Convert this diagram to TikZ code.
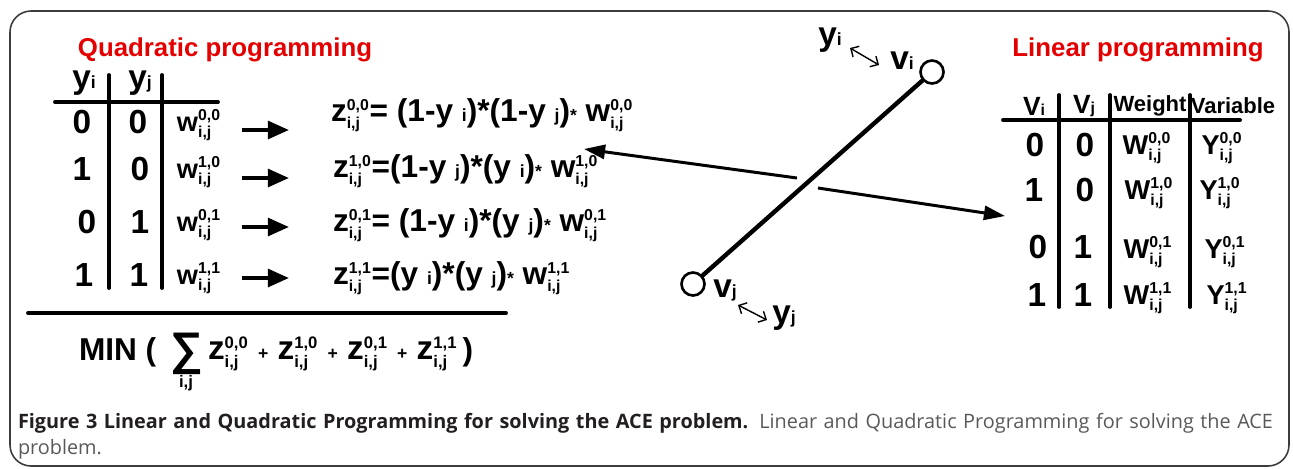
\documentclass[tikz,border=0pt]{standalone}
\usepackage{fontspec}
\setmainfont{Liberation Sans}
\newfontfamily\capfont{Open Sans}
\usetikzlibrary{arrows.meta}
\definecolor{qred}{RGB}{228,0,0}
\definecolor{capbold}{RGB}{35,31,32}
\definecolor{capgray}{RGB}{88,89,91}
\definecolor{framegray}{RGB}{60,60,60}
\newcommand\fsz[1]{\fontsize{#1}{#1}\selectfont}
% letter with superscript and subscript i,j
\newcommand\wsub[3]{$\hbox{#1}^{\hbox{\fsz{#3}#2}}_{\hbox{\fsz{#3}i,j}}$}
\newcommand\sml[1]{{\fsz{10}#1}}
\begin{document}
\begin{tikzpicture}[x=0.02cm,y=-0.02cm,
  every node/.style={inner sep=0pt,outer sep=0pt,font=\bfseries},
  frame/.style={draw=framegray,line width=0.9pt,rounded corners=12pt},
  title/.style={text=qred,font=\bfseries\fsz{14.7}},
  digit/.style={font=\bfseries\fsz{19}},
  wnode/.style={font=\bfseries\fsz{15.5}},
  eqnode/.style={anchor=west,font=\bfseries\fsz{18}},
  rulel/.style={line width=2.2pt,line cap=round},
  bigarrow/.style={line width=2.3pt,-{Triangle[length=12pt,width=10pt]}},
  longarrow/.style={line width=1.7pt,-{Triangle[length=12pt,width=8pt]}},
  dbl/.style={line width=0.8pt,{Straight Barb[length=3.5pt,width=7pt]}-{Straight Barb[length=3.5pt,width=7pt]}},
  vert/.style={circle,draw,line width=1.5pt,minimum size=0.46cm},
  lbl/.style={font=\bfseries\fsz{19}}]
\useasboundingbox (0,0) rectangle (1293,468);
\draw[frame] (10,11) rectangle (1289,466);

% ---------------- Quadratic programming ----------------
\node[title] (qp) at (225,50) {Quadratic programming};
\node (hyi) at (84,83) {{\fsz{19}y}{\fsz{10}i}};
\node (hyj) at (140,83) {{\fsz{19}y}{\fsz{10}j}};
\draw[rulel] (55,102) -- (218,102);
\draw[rulel] (109,75) -- (109,288);
\draw[rulel] (162,75) -- (162,288);

\node[digit] (a1) at (82,122) {0};
\node[digit] (b1) at (138,122) {0};
\node[digit] (a2) at (82,169) {1};
\node[digit] (b2) at (140,169) {0};
\node[digit] (a3) at (87,222) {0};
\node[digit] (b3) at (140,222) {1};
\node[digit] (a4) at (84,275) {1};
\node[digit] (b4) at (139,275) {1};

\node[wnode] (w1) at (199,125) {\wsub{w}{0,0}{9}};
\node[wnode] (w2) at (199,172) {\wsub{w}{1,0}{9}};
\node[wnode] (w3) at (199,225) {\wsub{w}{0,1}{9}};
\node[wnode] (w4) at (199,278) {\wsub{w}{1,1}{9}};

\node[eqnode] (z1) at (331,115) {\wsub{z}{0,0}{9}= (1-y \sml{i})*(1-y \sml{j})\sml{*} \wsub{w}{0,0}{9}};
\node[eqnode] (z2) at (333,171) {\wsub{z}{1,0}{9}=(1-y \sml{j})*(y \sml{i})\sml{*} \wsub{w}{1,0}{9}};
\node[eqnode] (z3) at (333,225) {\wsub{z}{0,1}{9}= (1-y \sml{i})*(y \sml{j})\sml{*} \wsub{w}{0,1}{9}};
\node[eqnode] (z4) at (333,278) {\wsub{z}{1,1}{9}=(y \sml{i})*(y \sml{j})\sml{*} \wsub{w}{1,1}{9}};

\coordinate (s1) at (242,130); \coordinate (e1) at (289,130);
\coordinate (s2) at (242,178); \coordinate (e2) at (289,178);
\coordinate (s3) at (242,227); \coordinate (e3) at (289,227);
\coordinate (s4) at (242,278); \coordinate (e4) at (289,278);
\draw[bigarrow] (s1) -- (e1);
\draw[bigarrow] (s2) -- (e2);
\draw[bigarrow] (s3) -- (e3);
\draw[bigarrow] (s4) -- (e4);

\draw[rulel] (28,313) -- (506,313);

\node[font=\bfseries\fsz{18},anchor=west] (min) at (79,352) {MIN (};
\node[font=\bfseries\fsz{26}] (sum) at (187,354) {∑};
\node[font=\bfseries\fsz{9.5}] (sumij) at (186,383) {i,j};
\node[font=\bfseries\fsz{19},anchor=west] (zsum) at (208,354)
  {\wsub{z}{0,0}{9.5} \sml{+} \wsub{z}{1,0}{9.5} \sml{+} \wsub{z}{0,1}{9.5} \sml{+} \wsub{z}{1,1}{9.5}};
\node[font=\bfseries\fsz{18}] (rpar) at (468,352) {)};

% ---------------- Graph ----------------
\node[vert] (vi) at (932,72) {};
\node[vert] (vj) at (693,284) {};
\draw[line width=2.5pt] (vi) -- (vj);
\node[lbl] (lyi) at (830,40) {y\sml{i}};
\node[lbl] (lvi) at (902,61) {v\sml{i}};
\node[lbl] (lvj) at (725,290) {v\sml{j}};
\node[lbl] (lyj) at (784,318) {y\sml{j}};
\coordinate (d1a) at (850,48); \coordinate (d1b) at (879,65);
\coordinate (d2a) at (738,305); \coordinate (d2b) at (767,320);
\draw[dbl] (d1a) -- (d1b);
\draw[dbl] (d2a) -- (d2b);

\coordinate (c1) at (797,178); \coordinate (t1) at (584,149);
\coordinate (c2) at (818,188); \coordinate (t2) at (1005,216);
\draw[longarrow] (c1) -- (t1);
\draw[longarrow] (c2) -- (t2);

% ---------------- Linear programming ----------------
\node[title] (lp) at (1138,50) {Linear programming};
\node (hvi) at (1034,106) {{\fsz{15}V}{\fsz{9}i}};
\node (hvj) at (1084,106) {{\fsz{15}V}{\fsz{9}j}};
\node[font=\bfseries\fsz{12.5}] (hw) at (1150,106) {Weight};
\node[font=\bfseries\fsz{12.5}] (hv) at (1233,106) {Variable};
\draw[rulel] (1003,120) -- (1240,120);
\draw[rulel] (1059,95) -- (1059,307);
\draw[rulel] (1110,95) -- (1110,307);
\draw[rulel] (1190,95) -- (1190,307);

\node[digit] (p1) at (1035,145) {0};
\node[digit] (q1) at (1085,145) {0};
\node[digit] (p2) at (1034,190) {1};
\node[digit] (q2) at (1085,190) {0};
\node[digit] (p3) at (1038,247) {0};
\node[digit] (q3) at (1083,247) {1};
\node[digit] (p4) at (1037,295) {1};
\node[digit] (q4) at (1083,295) {1};

\node[wnode] (W1) at (1147,148) {\wsub{W}{0,0}{9}};
\node[wnode] (W2) at (1149,193) {\wsub{W}{1,0}{9}};
\node[wnode] (W3) at (1148,252) {\wsub{W}{0,1}{9}};
\node[wnode] (W4) at (1148,298) {\wsub{W}{1,1}{9}};
\node[wnode] (Y1) at (1222,148) {\wsub{Y}{0,0}{9}};
\node[wnode] (Y2) at (1220,193) {\wsub{Y}{1,0}{9}};
\node[wnode] (Y3) at (1225,252) {\wsub{Y}{0,1}{9}};
\node[wnode] (Y4) at (1227,298) {\wsub{Y}{1,1}{9}};

% ---------------- Caption ----------------
\node[anchor=west,font=\capfont\fsz{11.3}] (cap1) at (18,423)
  {\makebox[714.3pt][s]{\textcolor{capbold}{\bfseries Figure 3 Linear and Quadratic Programming for solving the ACE problem.} \textcolor{capgray}{Linear and Quadratic Programming for solving the ACE}}};
\node[anchor=west,font=\capfont\fsz{11.3},text=capgray] (cap2) at (18,449) {problem.};
\end{tikzpicture}
\end{document}
